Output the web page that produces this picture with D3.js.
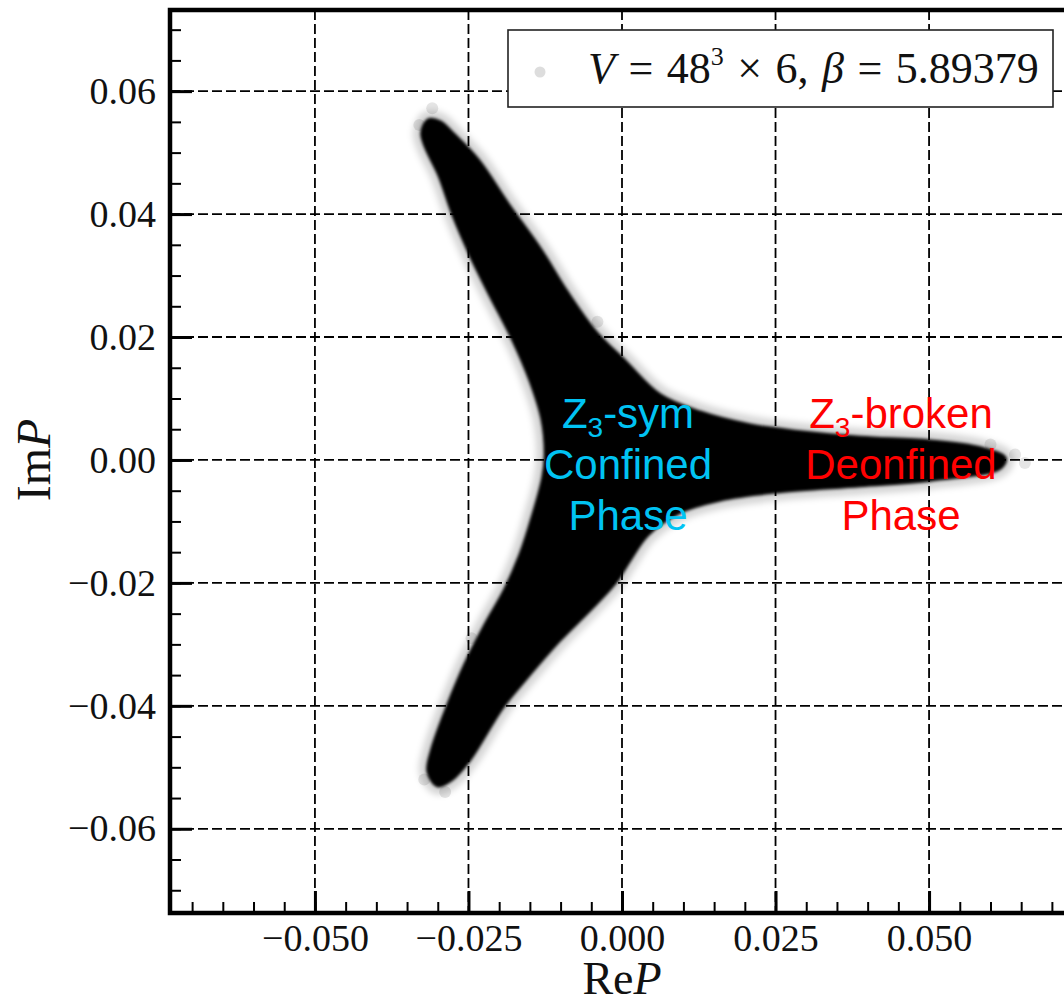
<!DOCTYPE html>
<html>
<head>
<meta charset="utf-8">
<script src="https://cdn.jsdelivr.net/npm/d3@7"></script>
<style>
body { margin: 0; background: #fff; }
svg text { font-family: "Liberation Serif", "Times New Roman", serif; }
.phase { font-family: "Liberation Sans", Arial, sans-serif; font-size: 42px; text-anchor: middle; }
</style>
</head>
<body>
<svg id="chart" width="1064" height="1005"></svg>
<script>
// Axis ticks and labels
const xTicks = [-0.050, -0.025, 0.000, 0.025, 0.050];
const xTickLabels = ['\u22120.050', '\u22120.025', '0.000', '0.025', '0.050'];
const yTicks = [-0.06, -0.04, -0.02, 0.00, 0.02, 0.04, 0.06];
const yTickLabels = ['\u22120.06', '\u22120.04', '\u22120.02', '0.00', '0.02', '0.04', '0.06'];
const minorTicks = [-0.070, -0.065, -0.060, -0.055, -0.050, -0.045, -0.040, -0.035, -0.030,
    -0.025, -0.020, -0.015, -0.010, -0.005, 0.000, 0.005, 0.010, 0.015, 0.020, 0.025,
    0.030, 0.035, 0.040, 0.045, 0.050, 0.055, 0.060, 0.065, 0.070];

// Outline of the dense cloud of (ReP, ImP) samples
const cloudOutline = [
    // upper arm tip, then its right edge
    [-0.0326, 0.0532], [-0.0316, 0.0553], [-0.0296, 0.0550], [-0.0277, 0.0533],
    [-0.0234, 0.0488], [-0.0185, 0.0416], [-0.0132, 0.0342], [-0.0091, 0.0276],
    [-0.0044, 0.0210], [0.0005, 0.0161],
    // junction into the right arm
    [0.0062, 0.0106], [0.0127, 0.0078], [0.0209, 0.0057], [0.0290, 0.0046],
    [0.0388, 0.0037], [0.0502, 0.0031], [0.0583, 0.0020], [0.0624, 0.0003],
    [0.0616, -0.0013], [0.0502, -0.0033], [0.0388, -0.0042], [0.0252, -0.0052],
    [0.0160, -0.0065], [0.0095, -0.0085], [0.0042, -0.0122], [0.0013, -0.0163],
    // lower arm right edge and tip
    [-0.0011, -0.0200], [-0.0052, -0.0244], [-0.0101, -0.0293], [-0.0158, -0.0358],
    [-0.0194, -0.0402], [-0.0248, -0.0488], [-0.0277, -0.0520], [-0.0300, -0.0530],
    [-0.0316, -0.0507], [-0.0310, -0.0472],
    // lower arm left edge
    [-0.0285, -0.0402], [-0.0256, -0.0333], [-0.0223, -0.0268], [-0.0191, -0.0211],
    [-0.0166, -0.0154], [-0.0145, -0.0089], [-0.0129, -0.0029], [-0.0125, 0.0008],
    // upper arm left edge
    [-0.0130, 0.0065], [-0.0150, 0.0130], [-0.0179, 0.0198], [-0.0215, 0.0268],
    [-0.0247, 0.0333], [-0.0275, 0.0398], [-0.0298, 0.0463], [-0.0320, 0.0509]
];

// A few faint stray samples around the tips and edges
const strayPoints = [
    [-0.0309, 0.0572], [-0.0330, 0.0545], [0.0656, -0.0005], [0.0640, 0.0009],
    [-0.0288, -0.0540], [-0.0322, -0.0520], [0.0600, 0.0025], [-0.0040, 0.0225],
    [-0.0210, 0.0360], [-0.0245, -0.0290]
];

const legendParts = [
    { text: 'V', italic: true }, { text: ' = 48' }, { text: '3', sup: true },
    { text: ' \u00d7 6, ', unsup: true }, { text: '\u03b2', italic: true },
    { text: ' = 5.89379' }
];

const symLines = ['Z|3|-sym', 'Confined', 'Phase'];
const brokenLines = ['Z|3|-broken', 'Deonfined', 'Phase'];

const svg = d3.select('#chart');

const x = d3.scaleLinear().domain([-0.0736, 0.0736]).range([170, 1074]);
const y = d3.scaleLinear().domain([-0.0737, 0.0732]).range([913, 10]);

// Filters for the soft scatter edge
const defs = svg.append('defs');
defs.append('filter').attr('id', 'soft').attr('x', '-20%').attr('y', '-20%')
    .attr('width', '140%').attr('height', '140%')
    .append('feGaussianBlur').attr('stdDeviation', 1.6);
defs.append('filter').attr('id', 'halo').attr('x', '-20%').attr('y', '-20%')
    .attr('width', '140%').attr('height', '140%')
    .append('feGaussianBlur').attr('stdDeviation', 3);

// Dashed grid
svg.append('g').selectAll('line').data(xTicks).enter().append('line')
    .attr('x1', d => x(d)).attr('x2', d => x(d))
    .attr('y1', y.range()[1]).attr('y2', y.range()[0])
    .attr('stroke', '#000').attr('stroke-width', 1.8).attr('stroke-dasharray', '10,4');
svg.append('g').selectAll('line').data(yTicks).enter().append('line')
    .attr('x1', x.range()[0]).attr('x2', x.range()[1])
    .attr('y1', d => y(d)).attr('y2', d => y(d))
    .attr('stroke', '#000').attr('stroke-width', 1.8).attr('stroke-dasharray', '10,4');

// Scatter cloud
const outline = d3.line()
    .x(d => x(d[0])).y(d => y(d[1]))
    .curve(d3.curveCatmullRomClosed.alpha(0.5));

svg.append('path').datum(cloudOutline)
    .attr('d', outline)
    .attr('fill', 'none').attr('stroke', '#000').attr('stroke-opacity', 0.16)
    .attr('stroke-width', 18).attr('stroke-linejoin', 'round')
    .attr('filter', 'url(#halo)');

svg.append('g').selectAll('circle').data(strayPoints).enter().append('circle')
    .attr('cx', d => x(d[0])).attr('cy', d => y(d[1])).attr('r', 6)
    .attr('fill', '#000').attr('fill-opacity', 0.1);

svg.append('path').datum(cloudOutline)
    .attr('d', outline)
    .attr('fill', '#050505').attr('stroke', '#050505').attr('stroke-width', 3)
    .attr('stroke-linejoin', 'round')
    .attr('filter', 'url(#soft)');

// Axes: minor and major ticks pointing inward
const left = x.range()[0], bottom = y.range()[0];
svg.append('g').attr('transform', `translate(${left},0)`)
    .call(d3.axisLeft(y).tickValues(minorTicks.filter(d => d > y.domain()[0] && d < y.domain()[1]))
        .tickSize(-11).tickFormat(''))
    .call(g => g.select('.domain').remove())
    .call(g => g.selectAll('line').attr('stroke', '#000').attr('stroke-width', 2));
svg.append('g').attr('transform', `translate(${left},0)`)
    .call(d3.axisLeft(y).tickValues(yTicks).tickSize(-22).tickPadding(14)
        .tickFormat((d, i) => yTickLabels[i]))
    .call(g => g.select('.domain').remove())
    .call(g => g.selectAll('line').attr('stroke', '#000').attr('stroke-width', 3))
    .call(g => g.selectAll('text').attr('font-family', '"Liberation Serif", serif')
        .attr('font-size', 38).attr('fill', '#111'));

svg.append('g').attr('transform', `translate(0,${bottom})`)
    .call(d3.axisBottom(x).tickValues(minorTicks).tickSize(-11).tickFormat(''))
    .call(g => g.select('.domain').remove())
    .call(g => g.selectAll('line').attr('stroke', '#000').attr('stroke-width', 2));
svg.append('g').attr('transform', `translate(0,${bottom})`)
    .call(d3.axisBottom(x).tickValues(xTicks).tickSize(-22).tickPadding(11)
        .tickFormat((d, i) => xTickLabels[i]))
    .call(g => g.select('.domain').remove())
    .call(g => g.selectAll('line').attr('stroke', '#000').attr('stroke-width', 3))
    .call(g => g.selectAll('text').attr('font-family', '"Liberation Serif", serif')
        .attr('font-size', 38).attr('fill', '#111'));

// Frame
svg.append('rect')
    .attr('x', x.range()[0]).attr('y', y.range()[1])
    .attr('width', x.range()[1] - x.range()[0]).attr('height', y.range()[0] - y.range()[1])
    .attr('fill', 'none').attr('stroke', '#000').attr('stroke-width', 4.5);

// Axis titles
const reLabel = svg.append('text').attr('x', x(0)).attr('y', 994)
    .attr('text-anchor', 'middle').attr('font-size', 46).attr('fill', '#111');
reLabel.append('tspan').text('Re');
reLabel.append('tspan').attr('font-style', 'italic').text('P');

const imLabel = svg.append('text')
    .attr('transform', `translate(50,${y(0)}) rotate(-90)`)
    .attr('text-anchor', 'middle').attr('font-size', 48).attr('fill', '#111');
imLabel.append('tspan').text('Im');
imLabel.append('tspan').attr('font-style', 'italic').text('P');

// Legend
svg.append('rect').attr('x', 508).attr('y', 30).attr('width', 545).attr('height', 77)
    .attr('fill', '#fff').attr('stroke', '#222').attr('stroke-width', 1.6);
svg.append('circle').attr('cx', 540).attr('cy', 72).attr('r', 5.5).attr('fill', '#ddd');
const legendText = svg.append('text').attr('x', 588).attr('y', 83)
    .attr('font-size', 44).attr('word-spacing', 2.5).attr('fill', '#111');
legendParts.forEach(p => {
    const t = legendText.append('tspan').text(p.text);
    if (p.italic) t.attr('font-style', 'italic');
    if (p.sup) t.attr('font-size', 26).attr('dy', -18);
    if (p.unsup) t.attr('dy', 18);
});

// Phase annotations
function phaseLabel(lines, cx, color) {
    lines.forEach((line, i) => {
        const t = svg.append('text').attr('class', 'phase')
            .attr('x', cx).attr('y', 428 + i * 51).attr('fill', color);
        const parts = line.split('|');
        if (parts.length === 3) {
            t.append('tspan').text(parts[0]);
            t.append('tspan').attr('font-size', 28).attr('dy', 9).text(parts[1]);
            t.append('tspan').attr('dy', -9).text(parts[2]);
        } else {
            t.text(line);
        }
    });
}
phaseLabel(symLines, 628, '#00c3f3');
phaseLabel(brokenLines, 901, '#ff0000');
</script>
</body>
</html>
